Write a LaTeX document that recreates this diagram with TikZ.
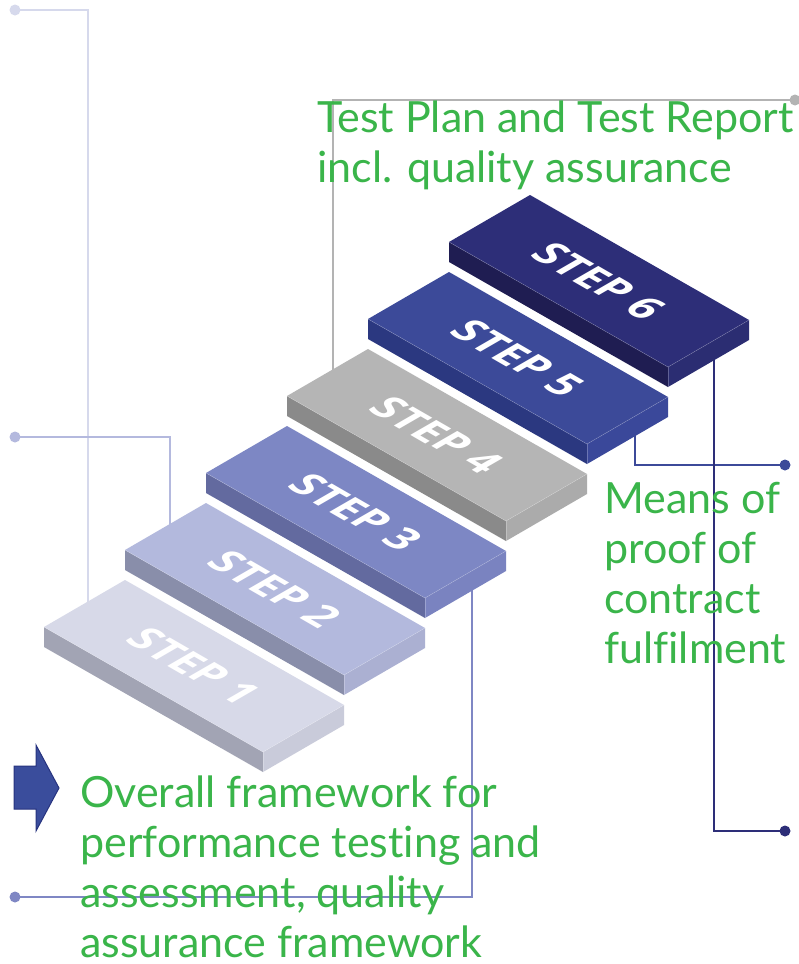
\documentclass[tikz,border=0pt]{standalone}
\usepackage{fontspec}
\setmainfont{Lato}[Ligatures=NoCommon]
\newfontfamily\stepfont{Open Sans}
\definecolor{txtgreen}{HTML}{3AB54A}
\definecolor{sAt}{HTML}{D7D9E8}\definecolor{sAl}{HTML}{A2A4B4}\definecolor{sAr}{HTML}{C9CBDA}
\definecolor{sBt}{HTML}{B3B9DD}\definecolor{sBl}{HTML}{898EAA}\definecolor{sBr}{HTML}{ABB0D2}
\definecolor{sCt}{HTML}{7D87C4}\definecolor{sCl}{HTML}{636A9F}\definecolor{sCr}{HTML}{7A83C0}
\definecolor{sDt}{HTML}{B5B5B5}\definecolor{sDl}{HTML}{8A8A8A}\definecolor{sDr}{HTML}{ABABAB}
\definecolor{sEt}{HTML}{3C4A99}\definecolor{sEl}{HTML}{2B3880}\definecolor{sEr}{HTML}{3A489A}
\definecolor{sFt}{HTML}{2D2E78}\definecolor{sFl}{HTML}{1F1D52}\definecolor{sFr}{HTML}{2B2D72}
\definecolor{lnA}{HTML}{D6D9EC}
\definecolor{lnB}{HTML}{B4B9DE}
\definecolor{lnC}{HTML}{7F87C4}
\definecolor{lnD}{HTML}{B3B3B3}
\definecolor{lnE}{HTML}{3C4A99}
\definecolor{lnF}{HTML}{2D2E78}
\definecolor{arrfill}{HTML}{3A4D9C}
\definecolor{arrdraw}{HTML}{27337F}
\tikzset{
  conn/.style={line width=2.4pt},
  dotmark/.style={circle, inner sep=0pt, minimum size=11pt},
  steplabel/.style={text=white, inner sep=0pt,
    font=\stepfont\bfseries\fontsize{42}{42}\selectfont,
    cm={0.866,-0.5,0.866,0.5,(0,0)}},
  greentext/.style={text=txtgreen, align=left, inner sep=0pt, anchor=base west,
    font=\fontsize{43}{49.7}\selectfont},
  edgehl/.style={draw=white, draw opacity=0.25, line width=0.5pt}
}
\begin{document}
\begin{tikzpicture}[x=1pt,y=-1pt]
\useasboundingbox (0,0) rectangle (798,964);
\fill[white] (0,0) rectangle (798,964);

% connector end points
\coordinate (e1) at (88,605);
\coordinate (e2) at (170,528);
\coordinate (e3) at (472,588);
\coordinate (e4) at (333,372);
\coordinate (e5) at (635,430);
\coordinate (e6) at (714,355);

\node[dotmark, fill=lnA] (d1) at (15,10) {};
\node[dotmark, fill=lnB] (d2) at (15,437) {};
\node[dotmark, fill=lnC] (d3) at (15,897) {};
\node[dotmark, fill=lnD] (d4) at (795,100) {};
\node[dotmark, fill=lnE] (d5) at (785,465) {};
\node[dotmark, fill=lnF] (d6) at (785,831) {};

\draw[conn, draw=lnA, line width=2pt] (d1.center) -| (e1);
\draw[conn, draw=lnB, line width=2pt] (d2.center) -| (e2);
\draw[conn, draw=lnC] (d3.center) -| (e3);
\draw[conn, draw=lnD] (e4) |- (d4.center);
\draw[conn, draw=lnE] (e5) |- (d5.center);
\draw[conn, draw=lnF] (e6) |- (d6.center);

% slabs, back to front
\foreach \i/\c in {6/F,5/E,4/D,3/C,2/B,1/A}{
  \pgfmathsetmacro{\lx}{44+81*(\i-1)}
  \pgfmathsetmacro{\ly}{627-77*(\i-1)}
  \coordinate (L\i) at (\lx,\ly);
  \coordinate (T\i) at (\lx+81,\ly-47);
  \coordinate (R\i) at (\lx+300,\ly+78);
  \coordinate (F\i) at (\lx+219,\ly+125);
  \coordinate (LB\i) at (\lx,\ly+20);
  \coordinate (RB\i) at (\lx+300,\ly+98);
  \coordinate (FB\i) at (\lx+219,\ly+145);
  \fill[s\c l] (L\i) -- (F\i) -- (FB\i) -- (LB\i) -- cycle;
  \fill[s\c r] (F\i) -- (R\i) -- (RB\i) -- (FB\i) -- cycle;
  \fill[s\c t] (L\i) -- (T\i) -- (R\i) -- (F\i) -- cycle;
  \draw[edgehl] (L\i) -- (F\i) -- (R\i);
  \draw[edgehl] (F\i) -- (FB\i);
  \node[steplabel] (t\i) at (\lx+150,\ly+39) {STEP \i};
}

% arrow
\draw[fill=arrfill, draw=arrdraw, line width=1pt, line join=miter]
  (14,766) -- (36,766) -- (36,745) -- (59,788) -- (36,831) -- (36,809) -- (14,809) -- cycle;

% texts (anchor = baseline of last line)
\node[greentext] (tp) at (317,182) {Test Plan and Test Report\\incl. quality assurance};
\node[greentext] (mp) at (604,663) {Means of\\proof of\\contract\\fulfilment};
\node[greentext] (of) at (80,957) {Overall framework for\\performance testing and\\assessment, quality\\assurance framework};
\end{tikzpicture}
\end{document}
